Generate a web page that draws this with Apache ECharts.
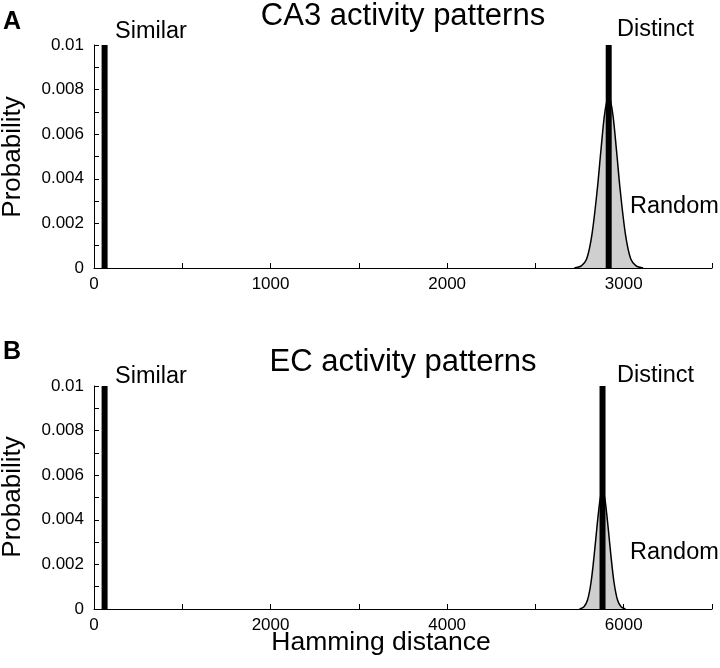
<!DOCTYPE html>
<html>
<head>
<meta charset="utf-8">
<script src="https://cdn.jsdelivr.net/npm/echarts@6/dist/echarts.min.js"></script>
<style>html,body{margin:0;padding:0;background:#fff}#c{width:720px;height:668px}</style>
</head>
<body>
<div id="c"></div>
<script>
// ---- data ----
const caSimilar = 60;
const caDistinct = 2915;
const caRandomX = [2720, 2760, 2790, 2820, 2850, 2870, 2890, 2905, 2915, 2925, 2940, 2960, 2980, 3010, 3040, 3070, 3110];
const caRandomY = [0, 0.0001, 0.0004, 0.0015, 0.0035, 0.0052, 0.0068, 0.0075, 0.0077, 0.0075, 0.0068, 0.0052, 0.0035, 0.0015, 0.0004, 0.0001, 0];
const ecSimilar = 120;
const ecDistinct = 5760;
const ecRandomX = [5500, 5550, 5590, 5630, 5665, 5695, 5725, 5745, 5760, 5775, 5795, 5825, 5855, 5890, 5930, 5970, 6020];
const ecRandomY = [0, 0.0001, 0.0004, 0.0012, 0.0024, 0.0036, 0.0047, 0.0052, 0.0054, 0.0052, 0.0047, 0.0036, 0.0024, 0.0012, 0.0004, 0.0001, 0];
const markerHeight = 0.01;
const caXLabels = [0, 1000, 2000, 3000];
const ecXLabels = [0, 2000, 4000, 6000];
const yLabels = [0, 0.002, 0.004, 0.006, 0.008, 0.01];

const FONT = '"Liberation Sans", Arial, Helvetica, sans-serif';
const chart = echarts.init(document.getElementById('c'), null, {renderer: 'canvas'});

function zip(xs, ys) { return xs.map((x, i) => [x, ys[i]]); }
function xAxis(gi, max, interval, labels) {
  return {
    type: 'value', gridIndex: gi, min: 0, max: max, interval: interval,
    axisLine: {show: true, onZero: false, lineStyle: {color: '#000', width: 1}},
    axisTick: {show: true, inside: true, length: 5, lineStyle: {color: '#000'}},
    splitLine: {show: false},
    axisLabel: {
      color: '#000', fontFamily: FONT, fontSize: 17, margin: 8,
      formatter: v => labels.some(l => Math.abs(l - v) < 1e-6) ? String(v) : ''
    }
  };
}
function yAxis(gi) {
  return {
    type: 'value', gridIndex: gi, min: 0, max: 0.01, interval: 0.001,
    axisLine: {show: true, onZero: false, lineStyle: {color: '#000', width: 1}},
    axisTick: {show: true, inside: true, length: 5, lineStyle: {color: '#000'}},
    splitLine: {show: false},
    axisLabel: {
      color: '#000', fontFamily: FONT, fontSize: 17, margin: 10,
      formatter: v => {
        const hit = yLabels.find(l => Math.abs(l - v) < 1e-9);
        if (hit === undefined) return '';
        return hit === 0 ? '0' : String(hit);
      }
    }
  };
}
function panelSeries(gi, sim, dist, rx, ry) {
  const pts = zip(rx, ry);
  return [
    {type: 'line', xAxisIndex: gi, yAxisIndex: gi, data: pts, smooth: 0.3, symbol: 'none',
     lineStyle: {width: 0}, areaStyle: {color: '#cfcfcf', opacity: 1}, z: 1, silent: true},
    {type: 'line', xAxisIndex: gi, yAxisIndex: gi, data: [[sim, 0], [sim, markerHeight]], symbol: 'none',
     lineStyle: {color: '#000', width: 6, cap: 'butt'}, z: 3},
    {type: 'line', xAxisIndex: gi, yAxisIndex: gi, data: [[dist, 0], [dist, markerHeight]], symbol: 'none',
     lineStyle: {color: '#000', width: 6, cap: 'butt'}, z: 3},
    {type: 'line', xAxisIndex: gi, yAxisIndex: gi, data: pts, smooth: 0.3, symbol: 'none',
     lineStyle: {color: '#000', width: 1.5}, z: 4}
  ];
}
function txt(x, y, s, size, opts) {
  return {type: 'text', x: x, y: y,
    style: {text: s, fill: '#000', font: (opts && opts.bold ? 'bold ' : '') + size + 'px ' + FONT,
      textAlign: (opts && opts.align) || 'left', textVerticalAlign: 'middle'}};
}

const option = {
  animation: false,
  backgroundColor: '#fff',
  grid: [
    {left: 94, right: 8, top: 45, height: 223},
    {left: 94, right: 8, top: 386, height: 223}
  ],
  xAxis: [xAxis(0, 3500, 500, caXLabels), xAxis(1, 7000, 1000, ecXLabels)],
  yAxis: [yAxis(0), yAxis(1)],
  series: [].concat(
    panelSeries(0, caSimilar, caDistinct, caRandomX, caRandomY),
    panelSeries(1, ecSimilar, ecDistinct, ecRandomX, ecRandomY)
  ),
  graphic: [
    txt(403, 16, 'CA3 activity patterns', 31, {align: 'center'}),
    txt(403, 362, 'EC activity patterns', 31, {align: 'center'}),
    txt(3, 22, 'A', 25, {bold: true}),
    txt(3, 352, 'B', 25, {bold: true}),
    txt(115, 32, 'Similar', 23.5),
    txt(617, 30, 'Distinct', 23.5),
    txt(630, 207, 'Random', 23.5),
    txt(115, 377, 'Similar', 23.5),
    txt(617, 376, 'Distinct', 23.5),
    txt(630, 553, 'Random', 23.5),
    txt(381, 643, 'Hamming distance', 26.5, {align: 'center'}),
    {type: 'text', x: 13, y: 157, rotation: Math.PI / 2,
     style: {text: 'Probability', fill: '#000', font: '26px ' + FONT, textAlign: 'center', textVerticalAlign: 'middle'}},
    {type: 'text', x: 13, y: 497, rotation: Math.PI / 2,
     style: {text: 'Probability', fill: '#000', font: '26px ' + FONT, textAlign: 'center', textVerticalAlign: 'middle'}}
  ]
};
chart.setOption(option);
</script>
</body>
</html>
